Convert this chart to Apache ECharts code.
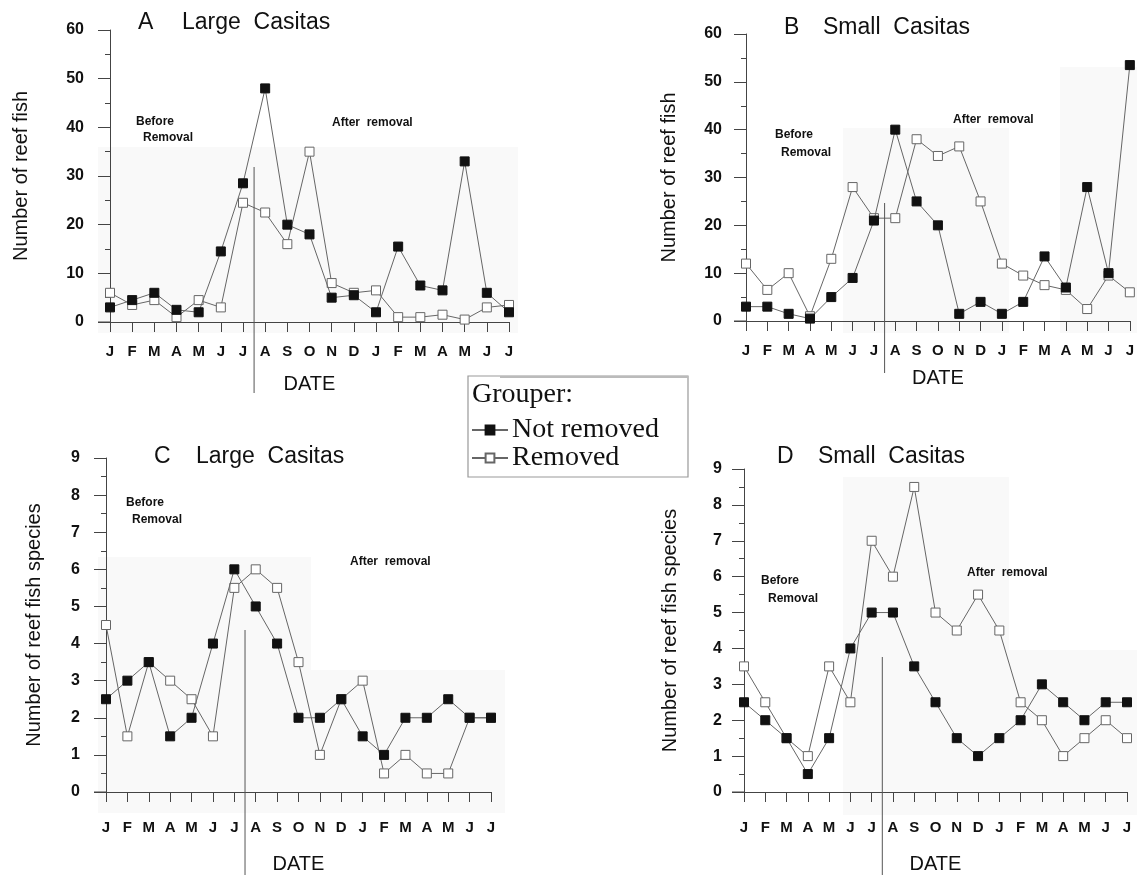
<!DOCTYPE html>
<html>
<head>
<meta charset="utf-8">
<script src="https://cdn.jsdelivr.net/npm/echarts@6/dist/echarts.min.js"></script>
<style>
  html, body { margin: 0; padding: 0; background: #fff; }
  #chart { width: 1137px; height: 875px; }
</style>
</head>
<body>
<div id="chart"></div>
<script>
  // months Jan (year 1) .. Jul (year 2)
  const months = ['J','F','M','A','M','J','J','A','S','O','N','D','J','F','M','A','M','J','J'];

  // A: number of reef fish, large casitas
  const fishLargeNot = [3, 4.5, 6, 2.5, 2, 14.5, 28.5, 48, 20, 18, 5, 5.5, 2, 15.5, 7.5, 6.5, 33, 6, 2];
  const fishLargeRem = [6, 3.5, 4.5, 1, 4.5, 3, 24.5, 22.5, 16, 35, 8, 6, 6.5, 1, 1, 1.5, 0.5, 3, 3.5];
  // B: number of reef fish, small casitas
  const fishSmallNot = [3, 3, 1.5, 0.5, 5, 9, 21, 40, 25, 20, 1.5, 4, 1.5, 4, 13.5, 7, 28, 10, 53.5];
  const fishSmallRem = [12, 6.5, 10, 1, 13, 28, 21.5, 21.5, 38, 34.5, 36.5, 25, 12, 9.5, 7.5, 6.5, 2.5, 9.5, 6];
  // C: number of reef fish species, large casitas
  const sppLargeNot = [2.5, 3, 3.5, 1.5, 2, 4, 6, 5, 4, 2, 2, 2.5, 1.5, 1, 2, 2, 2.5, 2, 2];
  const sppLargeRem = [4.5, 1.5, 3.5, 3, 2.5, 1.5, 5.5, 6, 5.5, 3.5, 1, 2.5, 3, 0.5, 1, 0.5, 0.5, 2, 2];
  // D: number of reef fish species, small casitas
  const sppSmallNot = [2.5, 2, 1.5, 0.5, 1.5, 4, 5, 5, 3.5, 2.5, 1.5, 1, 1.5, 2, 3, 2.5, 2, 2.5, 2.5];
  const sppSmallRem = [3.5, 2.5, 1.5, 1, 3.5, 2.5, 7, 6, 8.5, 5, 4.5, 5.5, 4.5, 2.5, 2, 1, 1.5, 2, 1.5];

  const fishTicks = {min: 0, max: 60, interval: 10};
  const sppTicks = {min: 0, max: 9, interval: 1};

  const sans = 'Liberation Sans';
  const axisColor = '#444';

  let chart = echarts.init(document.getElementById('chart'));

  const grids = [
    {left: 110, top: 30, width: 399, height: 292},
    {left: 746, top: 34, width: 389, height: 287},
    {left: 106, top: 458, width: 385, height: 342},
    {left: 744, top: 469, width: 383, height: 331}
  ];
  const yNames = ['Number of reef fish', 'Number of reef fish', 'Number of reef fish species', 'Number of reef fish species'];
  const yNameGap = [79, 67, 62, 64];
  const yLabelMargin = [26, 24, 26, 22];
  const xLabelMargin = [22, 22, 28, 28];
  const xNameGap = [52, 47, 62, 62];

  const xAxes = grids.map((g, i) => ({
    type: 'category',
    gridIndex: i,
    data: months,
    boundaryGap: false,
    name: 'DATE',
    nameLocation: 'middle',
    nameGap: xNameGap[i],
    nameTextStyle: {fontFamily: sans, fontSize: 20, color: '#111'},
    axisLine: {lineStyle: {color: axisColor, width: 1}},
    axisTick: {length: 10, lineStyle: {color: axisColor}},
    axisLabel: {interval: 0, margin: xLabelMargin[i], fontFamily: sans, fontSize: 15, fontWeight: 'bold', color: '#111'},
    splitLine: {show: false}
  }));

  const yAxes = grids.map((g, i) => {
    let t = i < 2 ? fishTicks : sppTicks;
    return {
      type: 'value',
      gridIndex: i,
      min: t.min,
      max: t.max,
      interval: t.interval,
      name: yNames[i],
      nameLocation: 'middle',
      nameRotate: 90,
      nameGap: yNameGap[i],
      nameTextStyle: {fontFamily: sans, fontSize: 20, color: '#111'},
      axisLine: {show: true, lineStyle: {color: axisColor, width: 1}},
      axisTick: {show: true, length: 12, lineStyle: {color: axisColor}},
      minorTick: {show: true, splitNumber: 2, length: 5, lineStyle: {color: axisColor}},
      axisLabel: {margin: yLabelMargin[i], fontFamily: sans, fontSize: 16, fontWeight: 'bold', color: '#111'},
      splitLine: {show: false}
    };
  });

  function mkSeries(name, data, idx, filled) {
    return {
      type: 'line',
      name: name,
      xAxisIndex: idx,
      yAxisIndex: idx,
      data: data,
      symbol: 'rect',
      symbolSize: 9,
      clip: false,
      z: filled ? 4 : 3,
      lineStyle: {color: '#666', width: 1},
      itemStyle: {
        color: filled ? '#111' : '#fff',
        borderColor: filled ? '#111' : '#666',
        borderWidth: 1
      },
      emphasis: {disabled: true}
    };
  }

  const series = [
    mkSeries('Removed', fishLargeRem, 0, false),
    mkSeries('Not removed', fishLargeNot, 0, true),
    mkSeries('Removed', fishSmallRem, 1, false),
    mkSeries('Not removed', fishSmallNot, 1, true),
    mkSeries('Removed', sppLargeRem, 2, false),
    mkSeries('Not removed', sppLargeNot, 2, true),
    mkSeries('Removed', sppSmallRem, 3, false),
    mkSeries('Not removed', sppSmallNot, 3, true)
  ];

  function txt(text, x, y, font, align) {
    return {
      type: 'text', z: 10,
      style: {text: text, x: x, y: y, font: font, fill: '#111', align: align || 'left', verticalAlign: 'middle'}
    };
  }
  function shade(x, y, w, h) {
    return {type: 'rect', z: -10, shape: {x: x, y: y, width: w, height: h}, style: {fill: '#f9f9f9'}};
  }

  const titleFont = 'normal 23px "Liberation Sans"';
  const noteFont = 'bold 12px "Liberation Sans"';
  let graphics = [
    shade(98, 147, 420, 186),
    shade(843, 128, 166, 205), shade(1060, 67, 77, 266),
    shade(98, 557, 213, 256), shade(311, 670, 194, 143),
    shade(843, 477, 166, 338), shade(1009, 650, 128, 165),

    txt('A', 138, 23, titleFont), txt('Large  Casitas', 182, 23, titleFont),
    txt('B', 784, 28, titleFont), txt('Small  Casitas', 823, 28, titleFont),
    txt('C', 154, 457, titleFont), txt('Large  Casitas', 196, 457, titleFont),
    txt('D', 777, 457, titleFont), txt('Small  Casitas', 818, 457, titleFont),

    txt('Before', 136, 122, noteFont), txt('Removal', 143, 138, noteFont), txt('After  removal', 332, 123, noteFont),
    txt('Before', 775, 135, noteFont), txt('Removal', 781, 153, noteFont), txt('After  removal', 953, 120, noteFont),
    txt('Before', 126, 503, noteFont), txt('Removal', 132, 520, noteFont), txt('After  removal', 350, 562, noteFont),
    txt('Before', 761, 581, noteFont), txt('Removal', 768, 599, noteFont), txt('After  removal', 967, 573, noteFont),

    // legend box
    {type: 'rect', z: 5, shape: {x: 468, y: 376, width: 220, height: 101},
      style: {fill: '#fff', stroke: '#999', lineWidth: 1.2}},
    {type: 'line', z: 6, shape: {x1: 500, y1: 377, x2: 688, y2: 377}, style: {stroke: '#bbb', lineWidth: 2}},
    txt('Grouper:', 472, 395, 'normal 28px "Liberation Serif"')
  ];

  chart.setOption({
    animation: false,
    grid: grids,
    xAxis: xAxes,
    yAxis: yAxes,
    series: series,
    legend: {
      data: ['Not removed', 'Removed'],
      orient: 'vertical',
      left: 471,
      top: 416,
      z: 8,
      itemGap: 0,
      itemWidth: 36,
      itemHeight: 11,
      padding: 0,
      selectedMode: false,
      textStyle: {fontFamily: 'Liberation Serif', fontSize: 28, lineHeight: 28, color: '#111', padding: [0, 0, 0, -1]}
    },
    graphic: graphics
  });

  // removal marker lines between J and A, plus short axis stubs left of the y-axis
  const lineEnds = [[167, 393], [203, 373], [630, 875], [657, 875]];
  let extra = [];
  grids.forEach((g, i) => {
    let p6 = chart.convertToPixel({xAxisIndex: i, yAxisIndex: i}, [6, 0]);
    let p7 = chart.convertToPixel({xAxisIndex: i, yAxisIndex: i}, [7, 0]);
    let mx = (p6[0] + p7[0]) / 2;
    extra.push({type: 'line', z: 6, shape: {x1: mx, y1: lineEnds[i][0], x2: mx, y2: lineEnds[i][1]},
      style: {stroke: '#555', lineWidth: 1}});
    extra.push({type: 'line', z: 6, shape: {x1: g.left - 12, y1: p6[1], x2: g.left, y2: p6[1]},
      style: {stroke: axisColor, lineWidth: 1}});
  });
  chart.setOption({graphic: graphics.concat(extra)});
</script>
</body>
</html>
